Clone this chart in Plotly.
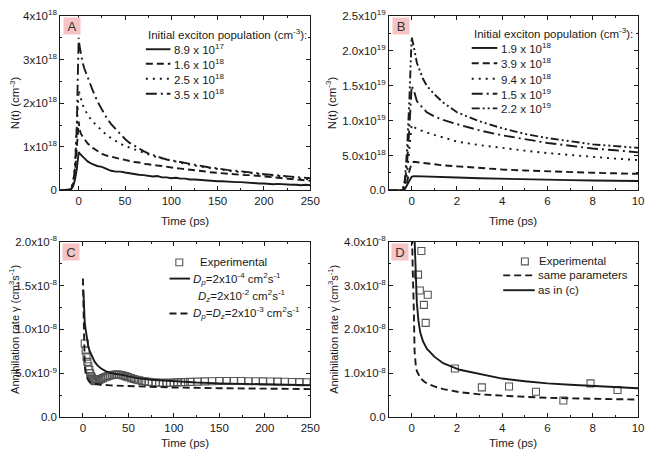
import plotly.graph_objects as go

# The page body keeps its default 8px margin, so the figure is drawn 8px in
# from the window's top-left corner; sizes/positions below compensate for it.
WIN_W, WIN_H = 654, 459
OFF = 8
W, H = WIN_W - OFF, WIN_H - OFF
FONT = "Liberation Sans, Arial, sans-serif"
FS = 11.5
INK = "#1a1a1a"

# ---------------- Panel A : N(t), time in ps, N in units of 1e18 cm^-3 ----------------
tA = [-20, -15, -10, -8, -6, -4, -2, -1, 0, 1, 2, 4, 6, 8,
      10, 15, 20, 25, 30, 35, 40, 45, 50, 55, 60, 65, 70, 75, 80, 85, 90, 95, 100,
      105, 110, 115, 120, 125, 130, 135, 140, 145, 150, 155, 160, 165, 170, 175, 180,
      185, 190, 195, 200, 205, 210, 215, 220, 225, 230, 235, 240, 245, 250]
nA_89e17 = [0, 0.01, 0.01, 0.03, 0.1, 0.25, 0.5, 0.72, 0.88, 0.85, 0.82, 0.78, 0.74, 0.7,
            0.66, 0.6, 0.56, 0.54, 0.5, 0.45, 0.43, 0.43, 0.41, 0.39, 0.38, 0.36, 0.35, 0.34, 0.32, 0.33, 0.3, 0.3, 0.28,
            0.29, 0.27, 0.27, 0.25, 0.25, 0.24, 0.23, 0.22, 0.22, 0.21, 0.21, 0.2, 0.2, 0.19, 0.19, 0.18,
            0.18, 0.17, 0.16, 0.16, 0.15, 0.14, 0.15, 0.14, 0.14, 0.13, 0.13, 0.12, 0.13, 0.12]
nA_16e18 = [0, 0.01, 0.01, 0.04, 0.15, 0.4, 0.9, 1.3, 1.58, 1.4, 1.32, 1.24, 1.18, 1.12,
            1.07, 0.98, 0.9, 0.84, 0.8, 0.77, 0.74, 0.72, 0.7, 0.67, 0.65, 0.64, 0.61, 0.6, 0.58, 0.57, 0.56, 0.54, 0.53,
            0.51, 0.5, 0.49, 0.47, 0.46, 0.45, 0.44, 0.42, 0.41, 0.4, 0.4, 0.38, 0.38, 0.37, 0.36, 0.35,
            0.35, 0.34, 0.33, 0.32, 0.3, 0.3, 0.29, 0.28, 0.27, 0.26, 0.25, 0.24, 0.23, 0.22]
nA_25e18 = [0, 0.01, 0.01, 0.04, 0.2, 0.6, 1.3, 1.9, 2.3, 2.2, 2.1, 1.98, 1.88, 1.8,
            1.72, 1.58, 1.47, 1.36, 1.27, 1.2, 1.13, 1.07, 1.02, 0.98, 0.94, 0.9, 0.86, 0.82, 0.79, 0.76, 0.73, 0.7, 0.68,
            0.66, 0.63, 0.61, 0.59, 0.57, 0.55, 0.53, 0.52, 0.5, 0.49, 0.47, 0.46, 0.44, 0.43, 0.42, 0.41,
            0.4, 0.39, 0.37, 0.36, 0.35, 0.34, 0.33, 0.32, 0.31, 0.3, 0.29, 0.27, 0.26, 0.25]
nA_35e18 = [0, 0.01, 0.01, 0.04, 0.15, 0.5, 1.5, 2.6, 3.5, 3.3, 3.15, 2.95, 2.8, 2.68,
            2.58, 2.3, 2.05, 1.85, 1.67, 1.52, 1.4, 1.28, 1.18, 1.09, 1.02, 0.95, 0.9, 0.85, 0.81, 0.77, 0.74, 0.71, 0.69,
            0.66, 0.64, 0.62, 0.6, 0.58, 0.57, 0.55, 0.53, 0.52, 0.5, 0.49, 0.47, 0.46, 0.45, 0.43, 0.42,
            0.41, 0.4, 0.39, 0.37, 0.36, 0.35, 0.34, 0.33, 0.32, 0.31, 0.3, 0.29, 0.29, 0.28]
legendA = ["8.9 x 10<sup>17</sup>", "1.6 x 10<sup>18</sup>", "2.5 x 10<sup>18</sup>", "3.5 x 10<sup>18</sup>"]
yticksA = [0, 1, 2, 3, 4]
yticktextA = ["0", "1x10<sup>18</sup>", "2x10<sup>18</sup>", "3x10<sup>18</sup>", "4x10<sup>18</sup>"]

# ---------------- Panel B : N(t), time in ps, N in units of 1e18 cm^-3 ----------------
tB = [-1, -0.4, -0.3, -0.2, -0.1, 0, 0.1, 0.23, 0.5, 0.67, 1, 1.39, 2, 3, 4, 5, 6, 7, 8, 9, 10]
nB_19e18 = [0, 0, 0.2, 0.8, 1.5, 1.95, 2.05, 2.03, 2.0, 1.98, 1.95, 1.92, 1.86, 1.74, 1.65, 1.58, 1.52, 1.47, 1.42, 1.38, 1.34]
nB_39e18 = [0, 0, 0.3, 1.2, 2.8, 3.9, 4.1, 4.05, 3.9, 3.82, 3.7, 3.6, 3.45, 3.2, 3.0, 2.85, 2.72, 2.62, 2.53, 2.45, 2.38]
nB_94e18 = [0, 0, 0.5, 2.5, 6.0, 9.4, 9.1, 8.8, 8.5, 8.3, 7.95, 7.6, 7.0, 6.5, 6.05, 5.7, 5.35, 5.05, 4.8, 4.55, 4.35]
nB_15e19 = [0, 0, 1.0, 4.0, 9.0, 15.0, 14.3, 12.8, 11.8, 11.2, 10.6, 10.1, 9.5, 8.6, 7.9, 7.3, 6.8, 6.4, 6.0, 5.75, 5.45]
nB_22e19 = [0, 0, 1.5, 6.0, 13.0, 22.0, 20.5, 18.3, 16.0, 15.0, 13.8, 12.6, 11.2, 9.9, 8.9, 8.1, 7.5, 7.0, 6.6, 6.35, 6.1]
legendB = ["1.9 x 10<sup>18</sup>", "3.9 x 10<sup>18</sup>", "9.4 x 10<sup>18</sup>",
           "1.5 x 10<sup>19</sup>", "2.2 x 10<sup>19</sup>"]
yticksB = [0, 5, 10, 15, 20, 25]
yticktextB = ["0.0", "5.0x10<sup>18</sup>", "1.0x10<sup>19</sup>", "1.5x10<sup>19</sup>",
              "2.0x10<sup>19</sup>", "2.5x10<sup>19</sup>"]

# ---------------- Panel C : gamma, units of 1e-9 cm^3 s^-1 ----------------
tC_exp = [2, 3, 4, 5, 6, 7, 8, 9, 10, 11, 12, 13, 14, 15, 16, 18, 20, 22, 24, 26, 28, 30, 32, 34, 36, 38,
          40, 42, 44, 46, 48, 50, 53, 56, 59, 62, 65, 68, 72, 76, 80, 84, 88, 92, 96, 100, 104, 108, 112,
          118, 126, 134, 142, 150, 158, 166, 174, 182, 190, 198, 206, 214, 222, 230, 238, 246]
gC_exp = [8.4, 7.6, 6.9, 6.3, 5.8, 5.4, 5.0, 4.7, 4.5, 4.35, 4.2, 4.12, 4.1, 4.12, 4.15, 4.25, 4.35, 4.45, 4.55,
          4.62, 4.7, 4.75, 4.8, 4.83, 4.85, 4.85, 4.83, 4.8, 4.75, 4.7, 4.62, 4.55, 4.45, 4.35, 4.27, 4.2, 4.13,
          4.08, 4.02, 3.98, 3.95, 3.93, 3.92, 3.92, 3.93, 3.95, 3.97, 3.99, 4.0, 4.02, 4.05, 4.08, 4.1, 4.12,
          4.12, 4.12, 4.12, 4.1, 4.1, 4.08, 4.06, 4.05, 4.03, 4.01, 4.0, 3.98]
tC_fit1 = [0.5, 1, 2, 3, 4, 6, 8, 10, 13, 16, 20, 25, 30, 35, 40, 45, 50, 60, 75, 100, 125, 150, 175, 200, 225, 250]
gC_fit1 = [14.5, 12.5, 10.8, 10.0, 9.2, 8.0, 7.4, 6.9, 6.3, 5.9, 5.55, 5.25, 5.05, 4.95, 4.9, 4.8, 4.65,
           4.45, 4.27, 4.1, 3.95, 3.85, 3.8, 3.75, 3.7, 3.65]
tC_fit2 = [0, 0.5, 1, 2, 3, 4, 6, 8, 10, 15, 20, 30, 50, 75, 100, 150, 200, 250]
gC_fit2 = [15.8, 12.0, 8.0, 6.0, 5.0, 4.6, 4.2, 3.95, 3.85, 3.75, 3.7, 3.62, 3.55, 3.45, 3.38, 3.3, 3.25, 3.2]
yticksC = [0, 5, 10, 15, 20]
yticktextC = ["0.0", "5.0x10<sup>-9</sup>", "1.0x10<sup>-8</sup>", "1.5x10<sup>-8</sup>", "2.0x10<sup>-8</sup>"]

# ---------------- Panel D : gamma, units of 1e-8 cm^3 s^-1 ----------------
tD_exp = [0.43, 0.28, 0.36, 0.71, 0.54, 0.62, 1.91, 3.1, 4.3, 5.49, 6.7, 7.9, 9.09]
gD_exp = [3.79, 3.25, 2.89, 2.79, 2.56, 2.15, 1.11, 0.68, 0.70, 0.58, 0.38, 0.77, 0.62]
tD_fit1 = [0.12, 0.16, 0.23, 0.3, 0.38, 0.5, 0.67, 1.0, 1.39, 2.12, 2.84, 4.0, 5, 6, 7, 8, 9, 10]
gD_fit1 = [4.2, 3.4, 2.6, 2.2, 1.93, 1.73, 1.56, 1.38, 1.23, 1.08, 1.0, 0.88, 0.82, 0.77, 0.74, 0.71, 0.68, 0.66]
tD_fit2 = [0.0, 0.01, 0.05, 0.09, 0.13, 0.18, 0.23, 0.4, 0.6, 1.0, 1.39, 2.12, 3, 4, 5, 6, 7, 8, 9, 10]
gD_fit2 = [4.6, 4.1, 3.3, 2.59, 1.49, 1.2, 1.05, 0.88, 0.79, 0.7, 0.64, 0.57, 0.52, 0.49, 0.46, 0.44, 0.43, 0.42, 0.41, 0.40]
yticksD = [0, 1, 2, 3, 4]
yticktextD = ["0.0", "1.0x10<sup>-8</sup>", "2.0x10<sup>-8</sup>", "3.0x10<sup>-8</sup>", "4.0x10<sup>-8</sup>"]

# ---------------- styling ----------------
DASH = {
    "solid": "solid",
    "dash": "7px,4px",
    "dot": "2px,5px",
    "dashdot": "11px,4px,2px,4px",
    "dashdotdot": "8px,3px,2px,3px,2px,3px",
}
LW = 1.9


def px(x):
    """window pixel x -> paper fraction"""
    return min(1.0, max(0.0, (x - OFF) / W))


def py(y):
    """window pixel y -> paper fraction"""
    return min(1.0, max(0.0, 1 - (y - OFF) / H))


fig = go.Figure()


def add_line(t, v, scale, dash, xa, ya):
    fig.add_trace(go.Scatter(
        x=t, y=[val * scale for val in v], mode="lines",
        line=dict(color=INK, width=LW, dash=DASH[dash]),
        xaxis=xa, yaxis=ya, showlegend=False, hoverinfo="skip"))


def add_squares(t, v, scale, xa, ya):
    fig.add_trace(go.Scatter(
        x=t, y=[val * scale for val in v], mode="markers",
        marker=dict(symbol="square-open", size=7, color="#555555", line=dict(width=1.1, color="#555555")),
        xaxis=xa, yaxis=ya, showlegend=False, hoverinfo="skip"))


# Panel A
for vals, d in zip([nA_89e17, nA_16e18, nA_25e18, nA_35e18], ["solid", "dash", "dot", "dashdot"]):
    add_line(tA, vals, 1e18, d, "x", "y")
# Panel B
for vals, d in zip([nB_19e18, nB_39e18, nB_94e18, nB_15e19, nB_22e19],
                   ["solid", "dash", "dot", "dashdot", "dashdotdot"]):
    add_line(tB, vals, 1e18, d, "x2", "y2")
# Panel C
add_squares(tC_exp, gC_exp, 1e-9, "x3", "y3")
add_line(tC_fit2, gC_fit2, 1e-9, "dash", "x3", "y3")
add_line(tC_fit1, gC_fit1, 1e-9, "solid", "x3", "y3")
# Panel D
add_squares(tD_exp, gD_exp, 1e-8, "x4", "y4")
add_line(tD_fit2, gD_fit2, 1e-8, "dash", "x4", "y4")
add_line(tD_fit1, gD_fit1, 1e-8, "solid", "x4", "y4")

# ---------------- axes ----------------
TICKFONT = dict(family=FONT, size=FS, color=INK)


def xaxis(domain, rng, dtick, minor_dtick, anchor):
    return dict(domain=domain, range=rng, anchor=anchor, tick0=0, dtick=dtick,
                ticks="inside", ticklen=4, tickwidth=1, tickcolor=INK,
                minor=dict(ticks="inside", ticklen=2, dtick=minor_dtick, tick0=0, tickcolor=INK),
                showline=True, linecolor=INK, linewidth=1, mirror="ticks",
                showgrid=False, zeroline=False, tickfont=TICKFONT, fixedrange=True)


def yaxis(domain, rng, tickvals, ticktext, scale, minor_step, anchor):
    minors = []
    v = 0.0
    while v <= tickvals[-1] + 1e-9:
        minors.append(v * scale)
        v += minor_step
    return dict(domain=domain, range=[rng[0] * scale, rng[1] * scale], anchor=anchor,
                tickmode="array", tickvals=[tv * scale for tv in tickvals], ticktext=ticktext,
                ticks="inside", ticklen=4, tickwidth=1, tickcolor=INK,
                minor=dict(ticks="inside", ticklen=2, tickvals=minors, tickcolor=INK),
                showline=True, linecolor=INK, linewidth=1, mirror="ticks",
                showgrid=False, zeroline=False, tickfont=TICKFONT, fixedrange=True)


domA_x = [px(61), px(315)]
domB_x = [px(395), px(648)]
domTop_y = [py(188), py(8)]
domBot_y = [py(422), py(241)]

fig.update_layout(
    xaxis=xaxis(domA_x, [-20, 250], 50, 25, "y"),
    yaxis=yaxis(domTop_y, [0, 4], yticksA, yticktextA, 1e18, 0.5, "x"),
    xaxis2=xaxis(domB_x, [-1, 10], 2, 1, "y2"),
    yaxis2=yaxis(domTop_y, [0, 25], yticksB, yticktextB, 1e18, 2.5, "x2"),
    xaxis3=xaxis(domA_x, [-25, 250], 50, 25, "y3"),
    yaxis3=yaxis(domBot_y, [0, 20], yticksC, yticktextC, 1e-9, 2.5, "x3"),
    xaxis4=xaxis(domB_x, [-1, 10], 2, 1, "y4"),
    yaxis4=yaxis(domBot_y, [0, 4], yticksD, yticktextD, 1e-8, 0.5, "x4"),
)

# ---------------- annotations / legend keys ----------------
ann = []
shapes = []


def text(x, y, s, xanchor="left", size=FS, angle=0):
    ann.append(dict(x=px(x), y=py(y), xref="paper", yref="paper", text=s, showarrow=False,
                    xanchor=xanchor, yanchor="middle", textangle=angle,
                    font=dict(family=FONT, size=size, color=INK)))


def key_line(x0, x1, y, dash):
    shapes.append(dict(type="line", xref="paper", yref="paper", x0=px(x0), x1=px(x1), y0=py(y), y1=py(y),
                       line=dict(color=INK, width=LW, dash=DASH[dash])))


def key_square(cx, cy):
    shapes.append(dict(type="rect", xref="paper", yref="paper", x0=px(cx - 3.5), x1=px(cx + 3.5),
                       y0=py(cy + 3.5), y1=py(cy - 3.5), line=dict(color="#555555", width=1.1)))


def panel_label(x, y, s):
    ann.append(dict(x=px(x), y=py(y), xref="paper", yref="paper", text=s, showarrow=False,
                    xanchor="left", yanchor="top", width=14, height=14, bgcolor="#f6c4c4",
                    font=dict(family=FONT, size=13, color="#333333")))


# Legend A
text(148, 27, "Initial exciton population (cm<sup>-3</sup>):")
for i, (lbl, d) in enumerate(zip(legendA, ["solid", "dash", "dot", "dashdot"])):
    yy = [42.3, 57.3, 72.7, 88.3][i]
    key_line(148, 173, yy, d)
    text(175, yy, lbl)

# Legend B
text(479, 26, "Initial exciton population (cm<sup>-3</sup>):")
for i, (lbl, d) in enumerate(zip(legendB, ["solid", "dash", "dot", "dashdot", "dashdotdot"])):
    yy = [41, 56.7, 72.7, 88.3, 103.3][i]
    key_line(479, 505, yy, d)
    text(507, yy, lbl)

# Legend C
key_square(182, 262.3)
text(201, 262.3, "Experimental")
key_line(172, 193, 279, "solid")
text(194, 279, "<i>D<sub>p</sub></i>=2x10<sup>-4</sup> cm<sup>2</sup>s<sup>-1</sup>")
text(199, 296.7, "<i>D<sub>z</sub></i>=2x10<sup>-2</sup> cm<sup>2</sup>s<sup>-1</sup>")
key_line(172, 193, 315, "dash")
text(194, 315, "<i>D<sub>p</sub></i>=<i>D<sub>z</sub></i>=2x10<sup>-3</sup> cm<sup>2</sup>s<sup>-1</sup>")

# Legend D
key_square(533, 261.3)
text(545, 261.3, "Experimental")
key_line(511, 543, 275.7, "dash")
text(544, 275.7, "same parameters")
key_line(511, 543, 291, "solid")
text(544, 291, "as in (c)")

# Panel letters
panel_label(64, 9, "A")
panel_label(398, 9, "B")
panel_label(63, 242, "C")
panel_label(397, 242, "D")

# Axis titles
text(188, 220, "Time (ps)", xanchor="center")
text(521, 220, "Time (ps)", xanchor="center")
text(188, 449, "Time (ps)", xanchor="center")
text(521, 449, "Time (ps)", xanchor="center")
text(15, 97, "N(t) (cm<sup>-3</sup>)", xanchor="center", angle=-90)
text(336, 97, "N(t) (cm<sup>-3</sup>)", xanchor="center", angle=-90)
text(14, 331, "Annihilation rate \u03b3 (cm<sup>3</sup>s<sup>-1</sup>)", xanchor="center", size=11, angle=-90)
text(338, 331, "Annihilation rate \u03b3 (cm<sup>3</sup>s<sup>-1</sup>)", xanchor="center", size=11, angle=-90)

fig.update_layout(
    width=W, height=H, margin=dict(l=0, r=0, t=0, b=0),
    paper_bgcolor="white", plot_bgcolor="white",
    annotations=ann, shapes=shapes, showlegend=False,
    font=dict(family=FONT, size=FS, color=INK),
)

fig.write_html("out.html", config={"displayModeBar": False})
